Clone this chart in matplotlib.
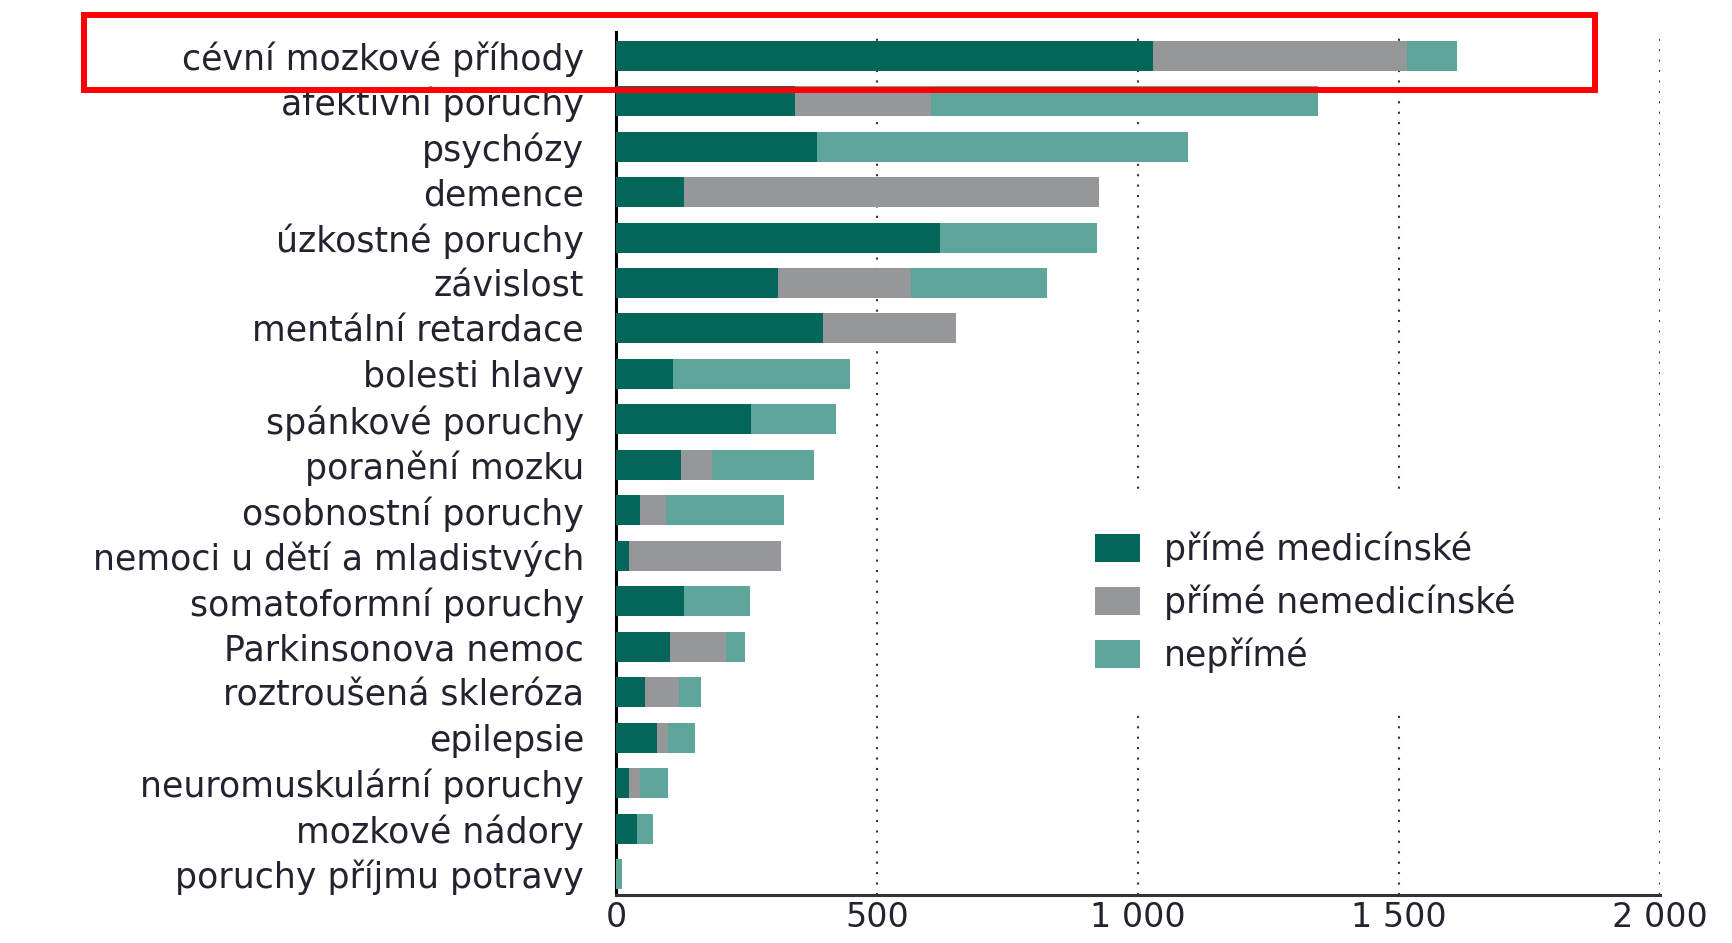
import matplotlib
matplotlib.use("Agg")
import matplotlib.pyplot as plt
import numpy as np
from matplotlib.patches import Rectangle

# costs by diagnosis, top to bottom
categories = [
    "cévní mozkové příhody", "afektivní poruchy", "psychózy", "demence",
    "úzkostné poruchy", "závislost", "mentální retardace", "bolesti hlavy",
    "spánkové poruchy", "poranění mozku", "osobnostní poruchy",
    "nemoci u dětí a mladistvých", "somatoformní poruchy",
    "Parkinsonova nemoc", "roztroušená skleróza", "epilepsie",
    "neuromuskulární poruchy", "mozkové nádory", "poruchy příjmu potravy",
]
direct_medical = [1028, 343, 386, 131, 620, 311, 396, 110, 259, 125,
                  46, 25, 131, 104, 56, 78, 25, 41, 0]
direct_nonmedical = [487, 260, 0, 794, 0, 255, 255, 0, 0, 59,
                     49, 291, 0, 107, 65, 21, 21, 0, 0]
indirect = [96, 742, 710, 0, 301, 259, 0, 338, 163, 195,
            226, 0, 126, 36, 41, 53, 53, 30, 12]
series_names = ["přímé medicínské", "přímé nemedicínské", "nepřímé"]
colors = ["#04665a", "#96979b", "#5ea59c"]
xticks = [0, 500, 1000, 1500, 2000]
xtick_labels = ["0", "500", "1 000", "1 500", "2 000"]

W, H = 1733, 943
text_color = "#23232f"
fs = 25

fig = plt.figure(figsize=(W / 100, H / 100), dpi=100)
ax = fig.add_axes([616 / W, 1 - 895 / H, (1660 - 616) / W, (895 - 32) / H])

y = np.arange(len(categories))
left = np.zeros(len(categories))
bars = []
for vals, name, c in zip([direct_medical, direct_nonmedical, indirect],
                         series_names, colors):
    vals = np.array(vals, dtype=float)
    bars.append(ax.barh(y, vals, left=left, height=0.66, color=c,
                        label=name, zorder=3))
    left += vals

ax.set_ylim(len(categories) - 1 + 0.46, -0.52)
ax.set_xlim(0, 2000)
ax.set_yticks(y)
ax.set_yticklabels(categories, fontsize=fs, color=text_color)
ax.set_xticks(xticks)
ax.set_xticklabels(xtick_labels, fontsize=24, color=text_color)
ax.tick_params(axis="y", length=0, pad=23)
ax.tick_params(axis="x", length=0, pad=4)

ax.grid(axis="x", color="#333333", linestyle=(0, (1, 4)), linewidth=1.5)
ax.set_axisbelow(True)
for s in ["top", "right"]:
    ax.spines[s].set_visible(False)
ax.spines["left"].set_linewidth(2.2)
ax.spines["left"].set_color("black")
ax.spines["bottom"].set_linewidth(2.2)
ax.spines["bottom"].set_color("#333333")

leg = ax.legend(handles=bars, loc="upper left",
                bbox_to_anchor=(1060 / W, 1 - 497 / H),
                bbox_transform=fig.transFigure, fontsize=fs,
                frameon=True, facecolor="white", edgecolor="none",
                framealpha=1, fancybox=False, borderpad=1.0,
                handlelength=1.3, handleheight=0.85, handletextpad=0.7,
                labelspacing=0.5, borderaxespad=0)
for t in leg.get_texts():
    t.set_color(text_color)
leg.set_zorder(5)

# highlight box around the first row
fig.add_artist(Rectangle((84 / W, 1 - 90 / H), (1595 - 84) / W, (90 - 14.5) / H,
                         transform=fig.transFigure, fill=False,
                         edgecolor="#ff0000", linewidth=4.3))

fig.savefig("out.png", dpi=100)
